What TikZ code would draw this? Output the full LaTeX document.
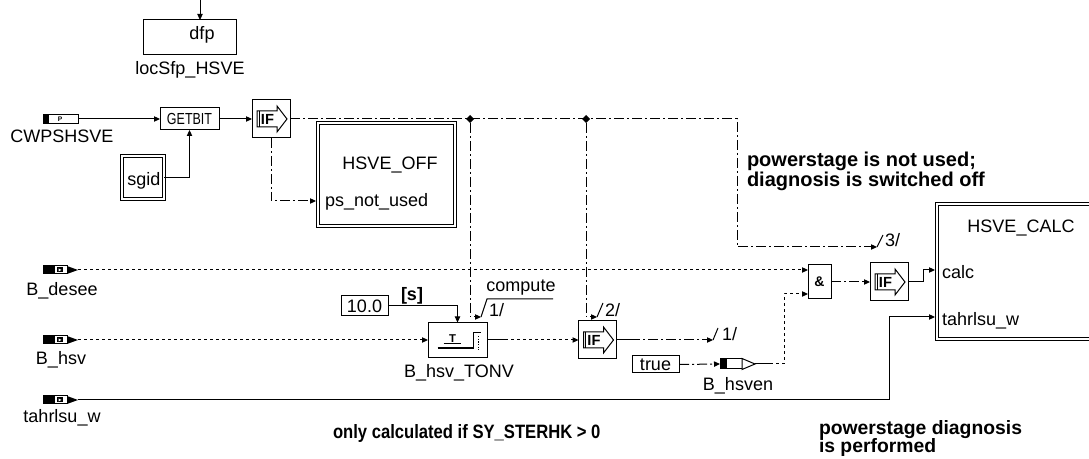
\documentclass[tikz,border=0pt]{standalone}
\usepackage{graphicx}
\usepackage{fontspec}
\setmainfont{Liberation Sans}
\usetikzlibrary{arrows.meta,shapes.geometric}
\tikzset{
  ifsym/.pic={
    \draw[line width=0.75pt, fill=white] (-14,-8) -- (6,-8) -- (6,-13) -- (16,0) -- (6,13) -- (6,8) -- (-14,8) -- cycle;
    \draw[line width=0.75pt] (-12,-8) -- (-12,8);
  },
  tonsym/.pic={
    \draw[line width=1.4pt] (-20,8) -- (16,8);
    \draw[line width=0.75pt] (16,8) -- (16,-7) -- (23,-7);
    \draw[line width=0.75pt] (-14,3.5) -- (3,3.5);
    \draw[line width=1pt, dash pattern=on 1pt off 1pt] (21,-4) -- (21,10);
  },
  inport/.pic={
    \fill (-12,-4) rectangle (0,4);
    \fill (2,-2.5) rectangle (8,2.5);
    \fill[white] (3.5,-1.5) -- (6.5,0) -- (3.5,1.5) -- cycle;
    \fill (12,-4) -- (23,0) -- (12,4) -- cycle;
  },
  outport/.pic={
    \fill (-11,-5) rectangle (-4,5);
    \draw[line width=0.75pt, fill=white] (11,-5.5) -- (24,0) -- (11,5.5) -- cycle;
  },
}
\begin{document}
\begin{tikzpicture}[x=0.75pt,y=-0.75pt, line width=0.75pt,
  every node/.style={inner sep=0pt, outer sep=0pt},
  box/.style={draw, fill=white, line width=0.75pt},
  dblbox/.style={draw, double, double distance=1.6pt, line width=0.6pt},
  arr/.style={-{Triangle[length=4.5pt,width=4pt]}},
  dd/.style={dash pattern=on 7.5pt off 2.25pt on 1.5pt off 2.25pt},
  dt/.style={dash pattern=on 2pt off 2.5pt},
  lab/.style={font=\fontsize{13.5}{16}\selectfont, anchor=base},
  labw/.style={lab, anchor=base west},
  boldw/.style={font=\fontsize{15}{17}\selectfont\bfseries, anchor=base west},
  iftxt/.style={font=\fontsize{11}{11}\selectfont\bfseries},
  junc/.style={diamond, fill=black, minimum size=6pt},
]
\useasboundingbox (0,0) rectangle (1089,459);
\fill[white] (0,0) rectangle (1089,459);

% ---- locSfp_HSVE
\node[box, minimum width=69.75pt, minimum height=26.25pt] (dfpbox) at (189.5,37.5) {};
\node[lab] (dfp) at (202,40) {dfp};
\node[lab] (locsfp) at (190,75) {locSfp\_HSVE};
\coordinate (topin) at (200,0);
\draw[arr] (topin) -- (topin |- dfpbox.north);

% ---- CWPSHSVE / GETBIT / IF
\node[box, minimum width=26.25pt, minimum height=6.75pt] (cwp) at (61,119) {};
\fill (43.5,114.5) rectangle (48.5,123.5);
\node[font=\fontsize{5}{5}\selectfont\bfseries] (cwpP) at (60,119) {P};
\node[lab] (cwplab) at (62,143) {CWPSHSVE};

\node[box, minimum width=44.25pt, minimum height=16.5pt] (getbit) at (189.5,119)
  {\fontsize{12}{12}\selectfont\scalebox{0.78}[1]{GETBIT}};
\draw[arr] (cwp.east) -- (getbit.west);

\node[box, minimum size=28.5pt] (if1) at (271,119) {};
\pic at (if1.center) {ifsym};
\node[iftxt] (if1t) at (267.5,119.5) {IF};
\draw[arr] (getbit.east) -- (if1.west);

\node[dblbox, minimum width=31.5pt, minimum height=32.25pt] (sgid) at (143,177.5) {};
\node[lab] (sgidt) at (144,186) {sgid};
\draw[arr] (sgid.east) -| (getbit.south);

% ---- HSVE_OFF
\node[dblbox, minimum width=102.75pt, minimum height=77.25pt] (hsveoff) at (386.5,174.5) {};
\node[lab] (offt) at (390,170) {HSVE\_OFF};
\node[labw] (psnu) at (325,207) {ps\_not\_used};
\coordinate (psin) at (316,201);
\draw[dd,arr] (if1.south) |- (psin);

% ---- main control line
\node[junc] (j1) at (470,119) {};
\node[junc] (j2) at (586,119) {};
\coordinate (b3) at (737,119);
\coordinate (t3) at (877,247);
\draw[dd,arr] (if1.east) -- (b3) |- (t3);
\draw (t3) -- (883,235);
\node[labw] (n3) at (885,247) {3/};

\coordinate (t1) at (481,317);
\draw[dd,arr] (j1) |- (t1);
\draw (t1) -- (487,299) -- (553,299);
\node[lab] (compute) at (521,292) {compute};
\node[labw] (n1a) at (489,317) {1/};

\coordinate (t2) at (597,317);
\draw[dd,arr] (j2) |- (t2);
\draw (t2) -- (603,303);
\node[labw] (n2) at (605,317) {2/};

% ---- inputs
\node[box, minimum width=18pt, minimum height=6pt] (bdesee) at (55,270) {};
\pic at (bdesee.center) {inport};
\coordinate (bdesee-tip) at (78,270);
\node[lab] (bdeseel) at (62,296) {B\_desee};

\node[box, minimum width=18pt, minimum height=6pt] (bhsv) at (55,340) {};
\pic at (bhsv.center) {inport};
\coordinate (bhsv-tip) at (78,340);
\node[lab] (bhsvl) at (61,365) {B\_hsv};

\node[box, minimum width=18pt, minimum height=6pt] (btahr) at (55,400) {};
\pic at (btahr.center) {inport};
\coordinate (btahr-tip) at (78,400);
\node[lab] (btahrl) at (62,423) {tahrlsu\_w};

% ---- timer
\node[box, minimum width=35.25pt, minimum height=15pt, font=\fontsize{13.5}{16}\selectfont] (ten) at (364.5,306) {10.0};
\node[font=\fontsize{13.5}{16}\selectfont\bfseries, anchor=base] (sunit) at (412,301) {[s]};

\node[box, minimum width=44.25pt, minimum height=26.25pt] (tonv) at (457.5,340) {};
\pic at (tonv.center) {tonsym};
\node[font=\fontsize{8.5}{8.5}\selectfont\bfseries] (tonT) at (452.5,338.5) {T};
\node[lab] (tonvl) at (459,378) {B\_hsv\_TONV};
\draw[arr] (ten.east) -| (tonv.north);
\draw[dt,arr] (bhsv-tip) -- (tonv.west);

\node[box, minimum size=28.5pt] (if2) at (597.5,340) {};
\pic at (if2.center) {ifsym};
\node[iftxt] (if2t) at (594,340.5) {IF};
\coordinate (s5) at (505,340);
\draw (tonv.east) -- (s5);
\draw[dt,arr] (s5) -- (if2.west);

\coordinate (s4) at (630,340);
\coordinate (t4) at (713,340);
\draw (if2.east) -- (s4);
\draw[dd,arr] (s4) -- (t4);
\draw (t4) -- (718,328);
\node[labw] (n1b) at (722,341) {1/};

% ---- true / B_hsven
\node[box, minimum width=35.25pt, minimum height=12.75pt, font=\fontsize{13.5}{16}\selectfont] (truebox) at (655.5,364.5) {true};
\node[box, minimum width=16.5pt, minimum height=7.5pt] (bhsven) at (731,364) {};
\pic at (bhsven.center) {outport};
\coordinate (bhsven-tip) at (755,364);
\node[lab] (bhsvenl) at (738,391) {B\_hsven};
\draw[dd,arr] (truebox.east) -- (bhsven.west);

% ---- AND / IF3
\node[box, minimum width=17.25pt, minimum height=25.5pt, font=\fontsize{10.5}{10.5}\selectfont\bfseries] (andg) at (819.5,282) {\&};
\draw[dt,arr] (bdesee-tip) -- (andg.west |- bdesee-tip);
\coordinate (s6) at (770,364);
\coordinate (k6) at (784,364);
\coordinate (a2) at (808,294);
\draw (bhsven-tip) -- (s6);
\draw[dt,arr] (s6) -- (k6) |- (a2);

\node[box, minimum size=28.5pt] (if3) at (889,282) {};
\pic at (if3.center) {ifsym};
\node[iftxt] (if3t) at (885.5,282.5) {IF};
\draw[dd,arr] (andg.east) -- (if3.west);

% ---- HSVE_CALC
\begin{scope}
\clip (0,0) rectangle (1089,459);
\node[dblbox, minimum width=120.75pt, minimum height=101.25pt] (hsvecalc) at (1017.5,271.5) {};
\end{scope}
\node[lab] (calct) at (1021,233) {HSVE\_CALC};
\node[labw] (calcin) at (942,279) {calc};
\node[labw] (tahrin) at (942,326) {tahrlsu\_w};
\coordinate (k8) at (923,282);
\coordinate (c1) at (935,270);
\draw[arr] (if3.east) -- (k8) |- (c1);
\coordinate (k7) at (889,400);
\coordinate (c2) at (935,317);
\draw[arr] (btahr-tip) -- (k7) |- (c2);

% ---- comments
\node[boldw] (cm1) at (747,167) {powerstage is not used;};
\node[boldw] (cm2) at (747,187) {diagnosis is switched off};
\node[boldw, font=\fontsize{14.5}{17}\selectfont\bfseries] (cm3) at (819,435) {powerstage diagnosis};
\node[boldw, font=\fontsize{14.5}{17}\selectfont\bfseries] (cm4) at (819,453) {is performed};
\node[boldw, font=\fontsize{14.5}{17}\selectfont\bfseries] (cm5) at (333,439) {\scalebox{0.86}[1]{only calculated if SY\_STERHK > 0}};
\end{tikzpicture}
\end{document}
